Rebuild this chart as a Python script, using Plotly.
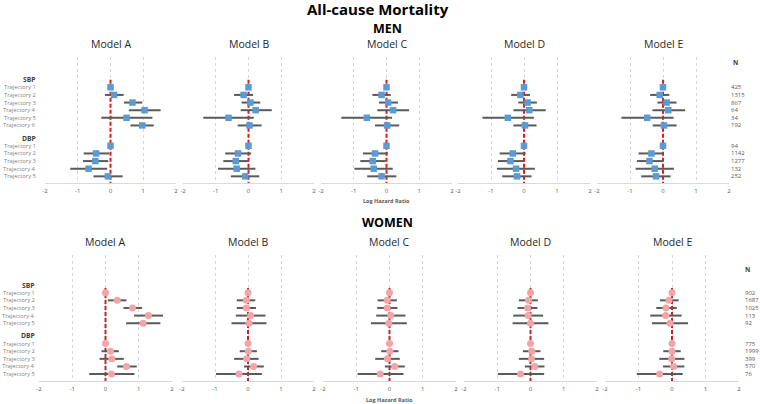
import plotly.graph_objects as go

# ---------------- data ----------------
models = ["Model A", "Model B", "Model C", "Model D", "Model E"]
tick_vals = [-2, -1, 0, 1, 2]
tick_text = ["-2", "-1", "0", "1", "2"]

men_sbp_labels = ["Trajectory 1", "Trajectory 2", "Trajectory 3", "Trajectory 4", "Trajectory 5", "Trajectory 6"]
men_dbp_labels = ["Trajectory 1", "Trajectory 2", "Trajectory 3", "Trajectory 4", "Trajectory 5"]
women_sbp_labels = ["Trajectory 1", "Trajectory 2", "Trajectory 3", "Trajectory 4", "Trajectory 5"]
women_dbp_labels = ["Trajectory 1", "Trajectory 2", "Trajectory 3", "Trajectory 4", "Trajectory 5"]

men_sbp_n = ["425", "1315", "867", "64", "34", "192"]
men_dbp_n = ["94", "1142", "1277", "132", "252"]
women_sbp_n = ["902", "1687", "1025", "113", "92"]
women_dbp_n = ["775", "1999", "399", "570", "76"]

# per model: SBP trajectories then DBP trajectories
men_est = [
    [0, 0.11, 0.67, 1.04, 0.49, 0.97, 0, -0.44, -0.46, -0.67, -0.08],
    [0, -0.15, 0.06, 0.22, -0.61, 0.03, 0, -0.32, -0.39, -0.36, -0.10],
    [0, -0.15, 0.05, 0.20, -0.60, 0.02, 0, -0.35, -0.42, -0.39, -0.15],
    [0, -0.11, 0.11, 0.16, -0.49, 0.03, 0, -0.34, -0.41, -0.24, -0.21],
    [0, -0.10, 0.11, 0.16, -0.48, 0.03, 0, -0.35, -0.41, -0.25, -0.21],
]
men_lo = [
    [0, -0.17, 0.41, 0.56, -0.28, 0.61, 0, -0.82, -0.84, -1.23, -0.52],
    [0, -0.44, -0.21, -0.24, -1.38, -0.33, 0, -0.71, -0.77, -0.93, -0.54],
    [0, -0.43, -0.23, -0.28, -1.38, -0.35, 0, -0.72, -0.80, -0.98, -0.59],
    [0, -0.39, -0.17, -0.32, -1.26, -0.32, 0, -0.74, -0.79, -0.82, -0.66],
    [0, -0.39, -0.17, -0.32, -1.26, -0.31, 0, -0.74, -0.79, -0.83, -0.66],
]
men_hi = [
    [0, 0.40, 0.97, 1.53, 1.28, 1.32, 0, -0.04, -0.07, -0.10, 0.37],
    [0, 0.14, 0.36, 0.71, 0.16, 0.40, 0, 0.08, 0.00, 0.21, 0.33],
    [0, 0.13, 0.35, 0.69, 0.17, 0.39, 0, 0.04, -0.02, 0.19, 0.30],
    [0, 0.18, 0.39, 0.66, 0.30, 0.38, 0, 0.05, 0.00, 0.33, 0.23],
    [0, 0.19, 0.41, 0.67, 0.32, 0.41, 0, 0.03, 0.00, 0.33, 0.23],
]
women_est = [
    [0, 0.35, 0.81, 1.29, 1.13, 0, 0.15, 0.19, 0.63, 0.18],
    [0, -0.05, -0.05, 0.08, 0.03, 0, 0.01, -0.04, 0.17, -0.27],
    [0, -0.07, -0.07, 0.04, -0.02, 0, 0.01, -0.06, 0.16, -0.28],
    [0, -0.06, -0.09, -0.07, 0.00, 0, 0.04, 0.03, 0.13, -0.30],
    [0, -0.09, -0.18, -0.19, -0.06, 0, 0.00, -0.01, 0.05, -0.37],
]
women_lo = [
    [0, 0.07, 0.54, 0.86, 0.62, 0, -0.12, -0.18, 0.35, -0.49],
    [0, -0.34, -0.34, -0.37, -0.50, 0, -0.25, -0.42, -0.12, -0.97],
    [0, -0.36, -0.37, -0.40, -0.56, 0, -0.25, -0.43, -0.14, -0.96],
    [0, -0.35, -0.39, -0.52, -0.54, 0, -0.23, -0.35, -0.17, -0.98],
    [0, -0.36, -0.47, -0.65, -0.60, 0, -0.26, -0.38, -0.27, -1.05],
]
women_hi = [
    [0, 0.63, 1.10, 1.73, 1.65, 0, 0.40, 0.55, 0.94, 0.87],
    [0, 0.22, 0.24, 0.53, 0.56, 0, 0.27, 0.32, 0.48, 0.42],
    [0, 0.22, 0.24, 0.48, 0.52, 0, 0.27, 0.31, 0.46, 0.42],
    [0, 0.22, 0.21, 0.38, 0.54, 0, 0.30, 0.41, 0.42, 0.41],
    [0, 0.20, 0.14, 0.29, 0.48, 0, 0.26, 0.37, 0.37, 0.32],
]

# ---------------- layout constants (pixels) ----------------
W, H = 760, 404
FONT = "Open Sans"
GRAY = "#595959"
ROW_PX = 7.63
GAP_ROWS = 2.67

men_panels = [(45, 176), (183, 314), (321, 452), (458, 590), (597, 729)]
women_panels = [(39, 172), (182, 314), (323, 456), (464, 597), (605, 739)]
men_top, men_bot, men_row1 = 57, 183, 87.3
women_top, women_bot, women_row1 = 255, 381, 292.7


def px(x):
    return x / W


def py(y):
    return 1 - y / H


def rows(n_sbp, n_dbp):
    sbp = [i + 1 for i in range(n_sbp)]
    dbp = [n_sbp + GAP_ROWS + i for i in range(n_dbp)]
    return sbp, dbp, 0, n_sbp + GAP_ROWS - 1


def yrange(top, bot, row1):
    return [(bot - row1) / ROW_PX + 1, (top - row1) / ROW_PX + 1]


fig = go.Figure()
annotations = []

sections = [
    dict(name="MEN", panels=men_panels, top=men_top, bot=men_bot, row1=men_row1,
         est=men_est, lo=men_lo, hi=men_hi, sl=men_sbp_labels, dl=men_dbp_labels,
         sn=men_sbp_n, dn=men_dbp_n, color="#5B9BD5", symbol="square", msize=6.5,
         red="#E31B1B", red_start=0.0, yid="y", yaxis="yaxis", xoff=0,
         sec_y=29, model_y=44, lhr_y=201, label_x=38, n_x=729, nh_x=735, nh_y=62),
    dict(name="WOMEN", panels=women_panels, top=women_top, bot=women_bot, row1=women_row1,
         est=women_est, lo=women_lo, hi=women_hi, sl=women_sbp_labels, dl=women_dbp_labels,
         sn=women_sbp_n, dn=women_dbp_n, color="#F4A3A6", symbol="circle", msize=7,
         red="#C0282D", red_start=0.4, yid="y2", yaxis="yaxis2", xoff=5,
         sec_y=222, model_y=242, lhr_y=400, label_x=37, n_x=743, nh_x=747, nh_y=269),
]

for s in sections:
    n_sbp, n_dbp = len(s["sl"]), len(s["dl"])
    sbp_y, dbp_y, sbp_h, dbp_h = rows(n_sbp, n_dbp)
    all_y = sbp_y + dbp_y
    yr = yrange(s["top"], s["bot"], s["row1"])
    first_x = s["xoff"] + 1
    fig.layout[s["yaxis"]] = dict(domain=[py(s["bot"]), py(s["top"])], range=yr,
                                  visible=False, anchor="x%d" % first_x, fixedrange=True)
    for m, (x0, x1) in enumerate(s["panels"]):
        k = s["xoff"] + m + 1
        xid = "x" if k == 1 else "x%d" % k
        xname = "xaxis" if k == 1 else "xaxis%d" % k
        fig.layout[xname] = dict(domain=[px(x0), px(x1)], range=[-2, 2], anchor=s["yid"],
                                 tickvals=tick_vals, ticktext=tick_text, showgrid=True,
                                 gridcolor="#D6D6D6", griddash="3px,3px", gridwidth=1,
                                 zeroline=False, showline=True, linecolor="#D9D9D9",
                                 linewidth=1, ticks="", ticklabelstandoff=2,
                                 tickfont=dict(family=FONT, size=6, color=GRAY),
                                 fixedrange=True)
        # reference line at zero
        fig.add_trace(go.Scatter(x=[0, 0], y=[s["red_start"], yr[0]], mode="lines",
                                 line=dict(color=s["red"], width=2, dash="4px,2px"),
                                 xaxis=xid, yaxis=s["yid"], hoverinfo="skip", showlegend=False))
        est, lo, hi = s["est"][m], s["lo"][m], s["hi"][m]
        plus = [h - e for h, e in zip(hi, est)]
        minus = [e - l for e, l in zip(est, lo)]
        fig.add_trace(go.Scatter(x=est, y=all_y, mode="markers",
                                 marker=dict(symbol=s["symbol"], size=s["msize"], color=s["color"]),
                                 error_x=dict(type="data", array=plus, arrayminus=minus,
                                              color="#5A5A5A", thickness=2, width=0),
                                 xaxis=xid, yaxis=s["yid"], showlegend=False))
        annotations.append(dict(text=models[m], x=px((x0 + x1) / 2), y=py(s["model_y"]),
                                xref="paper", yref="paper", showarrow=False,
                                xanchor="center", yanchor="middle",
                                font=dict(family=FONT, size=10.5, color="#262626")))
    # section title
    annotations.append(dict(text="<b>%s</b>" % s["name"], x=px(387), y=py(s["sec_y"]),
                            xref="paper", yref="paper", showarrow=False, xanchor="center",
                            yanchor="middle", font=dict(family=FONT, size=12.5, color="#000000")))
    # x-axis title
    c0, c1 = s["panels"][2]
    annotations.append(dict(text="<b>Log Hazard Ratio</b>", x=px((c0 + c1) / 2), y=py(s["lhr_y"]),
                            xref="paper", yref="paper", showarrow=False, xanchor="center",
                            yanchor="middle", font=dict(family=FONT, size=5.5, color=GRAY)))
    # row labels
    for yv, txt in [(sbp_h, "<b>SBP</b>"), (dbp_h, "<b>DBP</b>")]:
        annotations.append(dict(text=txt, x=px(s["label_x"]), y=yv, xref="paper", yref=s["yid"],
                                showarrow=False, xanchor="right", yanchor="middle",
                                font=dict(family=FONT, size=6.8, color="#404040")))
    for yv, txt in zip(all_y, s["sl"] + s["dl"]):
        annotations.append(dict(text=txt, x=px(s["label_x"]), y=yv, xref="paper", yref=s["yid"],
                                showarrow=False, xanchor="right", yanchor="middle",
                                font=dict(family=FONT, size=5.8, color="#7F7F7F")))
    # N column
    annotations.append(dict(text="<b>N</b>", x=px(s["nh_x"]), y=py(s["nh_y"]), xref="paper",
                            yref="paper", showarrow=False, xanchor="center", yanchor="middle",
                            font=dict(family=FONT, size=6.5, color="#404040")))
    for yv, txt in zip(all_y, s["sn"] + s["dn"]):
        annotations.append(dict(text=txt, x=px(s["n_x"]), y=yv, xref="paper", yref=s["yid"],
                                showarrow=False, xanchor="left", yanchor="middle",
                                font=dict(family=FONT, size=6.0, color=GRAY)))

annotations.append(dict(text="<b>All-cause Mortality</b>", x=px(378), y=py(9), xref="paper",
                        yref="paper", showarrow=False, xanchor="center", yanchor="middle",
                        font=dict(family=FONT, size=15, color="#000000")))

fig.update_layout(width=W, height=H, autosize=False, margin=dict(l=0, r=0, t=0, b=0, autoexpand=False),
                  paper_bgcolor="white", plot_bgcolor="white", annotations=annotations,
                  font=dict(family=FONT))
fig.write_html("out.html", config={"displayModeBar": False, "responsive": False},
               post_script="document.body.style.margin='0';document.body.style.overflow='hidden';")
